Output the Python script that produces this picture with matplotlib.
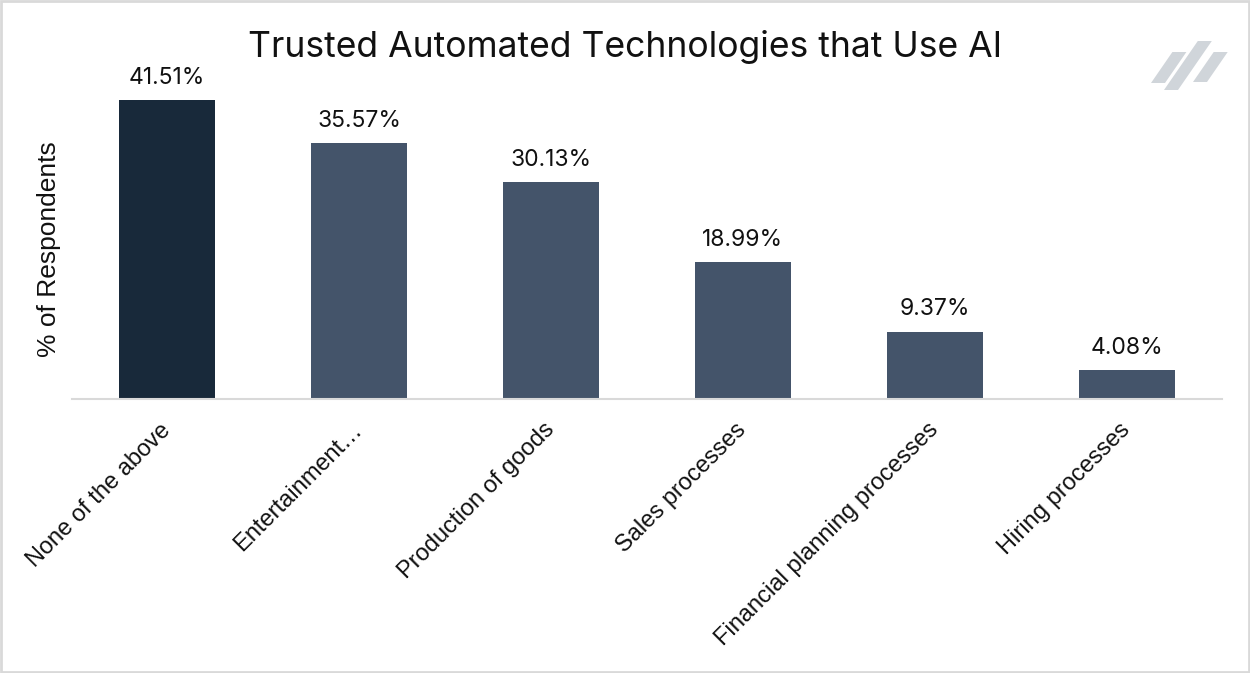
import matplotlib
matplotlib.use("Agg")
import matplotlib.pyplot as plt
from matplotlib.patches import Polygon, Rectangle

categories = ["None of the above", "Entertainment…", "Production of goods",
              "Sales processes", "Financial planning processes", "Hiring processes"]
values = [41.51, 35.57, 30.13, 18.99, 9.37, 4.08]
labels = ["41.51%", "35.57%", "30.13%", "18.99%", "9.37%", "4.08%"]
colors = ["#18293a", "#44546a", "#44546a", "#44546a", "#44546a", "#44546a"]

plt.rcParams['font.family'] = ['Inter', 'DejaVu Sans']
TICKFONT = ['Liberation Sans', 'DejaVu Sans']

W, H = 1250, 673
fig = plt.figure(figsize=(12.5, 6.73), dpi=100)
ax = fig.add_axes([72 / W, 1 - 399 / H, (1222 - 72) / W, (399 - 70) / H])

x = list(range(len(categories)))
ax.bar(x, values, width=0.5, color=colors, zorder=2)
for xi, v, lab in zip(x, values, labels):
    ax.annotate(lab, (xi, v), xytext=(0, 8), textcoords="offset points",
                ha="center", va="bottom", fontsize=16.5, color="#111111")

ax.set_xlim(-0.495, 5.495)
ax.set_ylim(0, 41.51 * 329 / 299)
for s in ["top", "right", "left"]:
    ax.spines[s].set_visible(False)
ax.spines["bottom"].set_color("#d9d9d9")
ax.spines["bottom"].set_linewidth(1.5)
ax.set_yticks([])
ax.set_xticks(x)
ax.set_xticklabels(categories, rotation=45, ha="right", va="center",
                   rotation_mode="anchor", fontsize=17, color="#111111",
                   family=TICKFONT)
ax.tick_params(axis="x", length=0, pad=20)
ax.set_ylabel("% of Respondents", fontsize=19, color="#111111", family=TICKFONT)
ax.yaxis.set_label_coords((61 - 72) / (1222 - 72), (399 - 249) / 329)

fig.text(625 / W, 1 - 47 / H, "Trusted Automated Technologies that Use AI",
         ha="center", va="center", fontsize=25.6, color="#111111")

# figure border
fig.patches.append(Rectangle((0.001, 0.001), 0.998, 0.997, transform=fig.transFigure,
                             fill=False, edgecolor="#d9d9d9", linewidth=2))

# logo stripes
def stripe(xb, yb, yt, w):
    slope = 0.69
    dx = (yb - yt) * slope
    pts = [(xb, yb), (xb + w, yb), (xb + w + dx, yt), (xb + dx, yt)]
    return Polygon([(px / W, 1 - py / H) for px, py in pts], closed=True,
                   transform=fig.transFigure, facecolor="#d0d5da", edgecolor="none")

fig.patches.append(stripe(1151, 83, 52, 14))
fig.patches.append(stripe(1164, 90, 41, 14))
fig.patches.append(stripe(1193, 82, 52, 14))

fig.savefig("out.png", dpi=100)
